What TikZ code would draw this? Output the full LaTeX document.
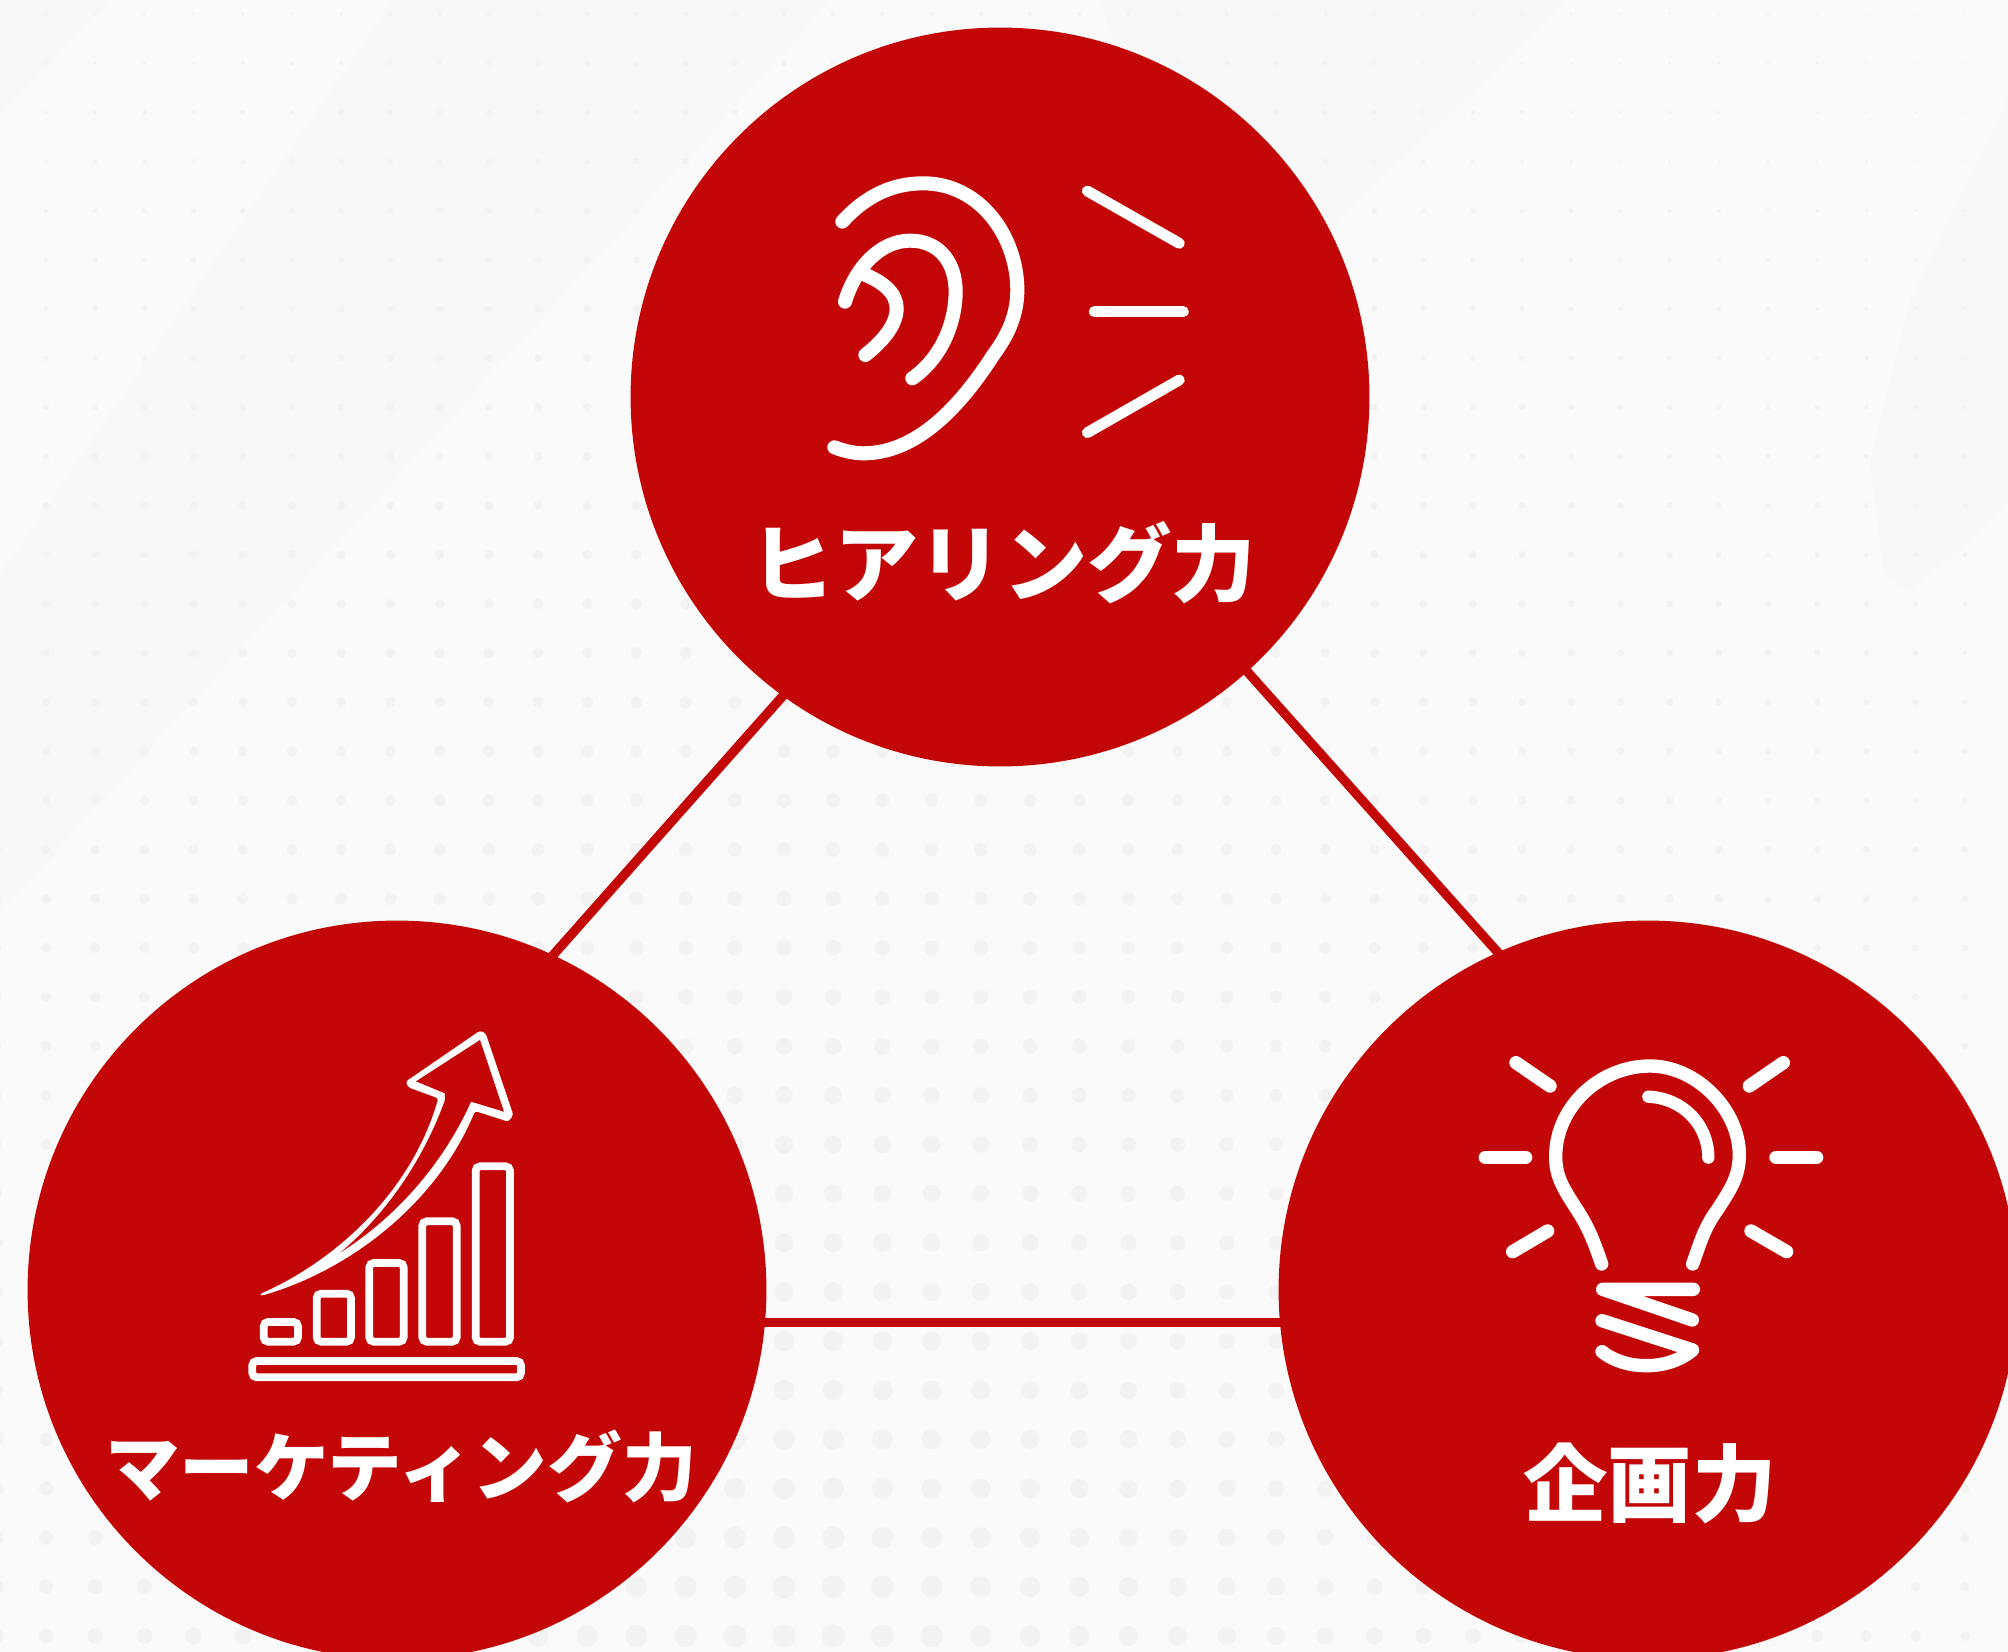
\documentclass[tikz,border=0pt]{standalone}
\usepackage{fontspec}
\newfontfamily\skillfont{Noto Sans CJK JP}
\definecolor{skillred}{HTML}{C30606}
\definecolor{paperlight}{HTML}{FAFAFA}
\definecolor{paperdark}{HTML}{F8F8F8}
\definecolor{dotgrey}{HTML}{F3F3F3}
\tikzset{
	skillcircle/.style={circle, fill=skillred, inner sep=0pt, minimum size=14.78cm},
	skilltext/.style={text=white, inner sep=0pt, font=\skillfont\bfseries\fontsize{48}{48}\selectfont},
	linkline/.style={draw=skillred, line width=5.3pt, shorten >=-4pt, shorten <=-4pt},
	iconline/.style={draw=white, line width=#1, line cap=round, line join=round},
	barline/.style={draw=white, line width=4.4pt, rounded corners=2.5pt}
}
\begin{document}
\begin{tikzpicture}[x=0.02cm, y=-0.02cm]
		\clip (0,0) rectangle (2008,1652);
		%paper
		\fill [paperlight] (0,0) rectangle (2008,1652);
		\fill [paperdark] (0,0) -- (113,0) -- (0,115) -- cycle;
		\fill [paperdark] (393,0) -- (832,0) -- (0,913) -- (0,575) -- cycle;
		\fill [paperdark] (1100,0) -- (1567,0) -- (1336,224) -- (1200,300) -- cycle;
		\fill [paperdark] (2008,98) -- (1911,299) -- (1870,460) -- (1884,575) -- (1911,592) -- (2008,506) -- cycle;
		%dots
		\foreach \i in {-1,...,39} {
			\foreach \j in {0,...,33} {
				\pgfmathsetmacro{\dotx}{46+49.2*\i}
				\pgfmathsetmacro{\doty}{14+49.15*\j}
				\pgfmathsetmacro{\dotr}{(2.5+9.5*\doty/1652)*(1-0.0005*abs(\dotx-800))}
				\fill [dotgrey] (\dotx,\doty) circle [radius=\dotr];
			}
		}
		%circles
		\node [skillcircle] (hearing) at (1000,397) {};
		\node [skillcircle] (marketing) at (397,1290) {};
		\node [skillcircle] (planning) at (1648,1290) {};
		%links
		\draw [linkline] (hearing.234.3) -- (marketing.65.05);
		\draw [linkline] (hearing.-48.2) -- (planning.114.6);
		\draw [linkline] (marketing.-5.1) -- (planning.185.1);
		%ear
		\begin{scope}[shift={(780,140)}, x=0.00667cm, y=-0.00667cm]
			\draw [iconline=8pt] (187,245) .. controls (260,165) and (340,130) .. (430,130) .. controls (600,130) and (712,290) .. (712,450) .. controls (712,530) and (680,590) .. (640,645) .. controls (540,800) and (410,940) .. (250,940) .. controls (220,940) and (190,932) .. (163,922);
			\draw [iconline=8pt] (195,485) .. controls (225,385) and (300,302) .. (390,302) .. controls (480,302) and (527,370) .. (527,455) .. controls (527,540) and (490,650) .. (397,715);
			\draw [iconline=8pt] (245,400) .. controls (310,425) and (350,460) .. (350,505) .. controls (350,560) and (300,610) .. (256,645);
			\draw [iconline=6.2pt] (922,153) -- (1198,310);
			\draw [iconline=6.2pt] (943,515) -- (1210,515);
			\draw [iconline=6.2pt] (922,878) -- (1198,720);
		\end{scope}
		%chart
		\begin{scope}[shift={(230,1010)}, x=0.00667cm, y=-0.00667cm]
			\foreach \barx/\bartop in {101/936, 260/851, 418/759, 577/634, 737/469} {
				\draw [barline] (\barx,\bartop) rectangle (\barx+103,995);
			}
			\draw [barline] (67,1053) rectangle (873,1102);
			\fill [white, rounded corners=1.5pt] (90,852) .. controls (300,760) and (540,560) .. (625,265)
				-- (535,232) -- (527,215) -- (750,62) -- (767,70) -- (850,315) -- (835,335) -- (735,303)
				.. controls (620,580) and (360,780) .. (95,857) -- cycle;
			\fill [skillred] (332,727) .. controls (470,610) and (580,450) .. (645,270)
				-- (645,250) -- (558,214) -- (750,90) -- (822,305) -- (723,275)
				.. controls (640,460) and (500,620) .. (332,727) -- cycle;
		\end{scope}
		%bulb
		\begin{scope}[shift={(1460,1040)}, x=0.00667cm, y=-0.00667cm]
			\draw [iconline=7.6pt] (425,672) .. controls (400,600) and (385,560) .. (345,500) .. controls (310,445) and (287,410) .. (287,350) .. controls (287,200) and (420,78) .. (570,78) .. controls (710,78) and (838,210) .. (838,345) .. controls (838,410) and (810,450) .. (775,505) .. controls (735,560) and (725,595) .. (698,672);
			\draw [iconline=7pt] (565,170) .. controls (670,175) and (745,255) .. (745,353);
			\draw [iconline=7.6pt] (168,68) -- (270,138);
			\draw [iconline=7.6pt] (76,352) -- (197,352);
			\draw [iconline=7.6pt] (263,573) -- (158,635);
			\draw [iconline=7.6pt] (970,68) -- (868,138);
			\draw [iconline=7.6pt] (948,352) -- (1070,352);
			\draw [iconline=7.6pt] (873,573) -- (980,635);
			\draw [iconline=7.6pt] (700,748) -- (428,748) -- (697,840);
			\draw [iconline=7.6pt] (426,842) -- (698,930) .. controls (660,962) and (610,977) .. (560,977) .. controls (510,977) and (465,965) .. (426,935);
		\end{scope}
		%labels
		\node [skilltext] (hearinglabel) at (1003,563) {ヒアリング力};
		\node [skilltext, font=\skillfont\bfseries\fontsize{42.5}{43}\selectfont] (marketinglabel) at (401,1466) {マーケティング力};
		\node [skilltext] (planninglabel) at (1650,1483) {企画力};
	\end{tikzpicture}
\end{document}
